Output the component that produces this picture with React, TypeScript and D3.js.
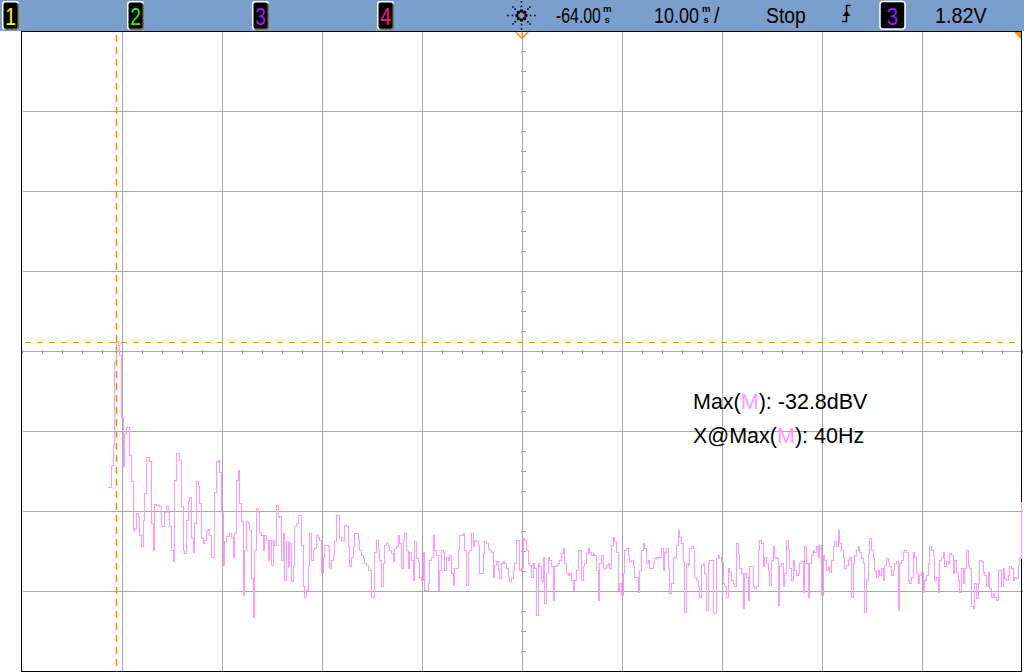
import React from "react";
import * as d3 from "d3";

const WIDTH = 1024;
const HEIGHT = 672;
const BAR_H = 31;

// graticule: 10 x 8 divisions, 1px lines on pixel centres
const GRID_LEFT = 22.5;
const GRID_RIGHT = 1022.5;
const GRID_TOP = 31.5;
const GRID_BOTTOM = 671.5;
const X_DIVS = 10;
const Y_DIVS = 8;

const FREQ_SPAN = [0, 420]; // Hz across the screen
const DBV_SPAN = [6, -74]; // 10 dB/div
const F_START = 36.0; // first FFT bin on screen
const BIN_HZ = 0.7;

// FFT magnitude, dBV, one value per bin
const magLow = [
  -51.0, -51.0, -48.2, -45.7, -35.4, -32.8, -33.2, -34.5, -42.2, -48.4,
  -44.3, -43.5, -43.5, -47.0, -50.3, -56.4, -56.1, -54.3, -54.6, -57.0,
  -58.4, -55.1, -51.8, -47.3, -47.3, -47.8, -55.5, -58.9, -53.1, -53.2,
  -53.2, -53.4, -55.9, -55.9, -54.1, -53.4, -54.1, -55.9, -58.9, -60.2,
  -50.1, -46.8, -46.8, -47.6, -53.4, -58.9, -59.3, -55.1, -52.8, -52.2,
  -57.4, -59.1, -55.5, -50.3, -50.9, -53.0, -57.4, -58.0, -57.6, -56.4,
  -56.3, -57.0, -59.7, -59.7, -51.6, -47.7, -47.6, -49.1, -54.1, -60.7,
  -57.8, -57.1, -57.1, -56.8, -57.2, -59.7, -56.8, -50.1, -48.9, -53.0,
  -55.3, -64.5, -58.9, -55.3, -55.5, -56.4, -62.4, -67.2, -58.9, -53.6,
  -54.1, -56.6, -57.0, -58.9, -57.0, -57.6, -60.1, -57.6, -60.7, -57.6,
  -58.2, -53.2, -54.7,
];

const magMid = [
  -54.6, -60.1, -56.8, -62.6, -57.8, -60.9, -58.0, -62.8, -60.9, -55.9,
  -55.5, -54.5, -54.5, -58.2, -63.4, -64.7, -63.9, -60.9, -56.8, -60.1,
  -58.9, -58.6, -57.0, -57.2, -57.6, -61.8, -59.7, -58.2, -58.2, -58.4,
  -61.1, -60.1, -59.5, -57.8, -54.5, -54.5, -57.2, -57.6, -57.6, -55.7,
  -55.9, -58.4, -60.9, -59.7, -58.4, -56.8, -56.8, -57.6, -58.9, -59.5,
  -59.9, -60.5, -60.7, -61.4, -61.4, -64.7, -64.7, -59.1, -57.6, -58.9,
  -60.1, -63.4, -60.5, -58.2, -58.0, -58.4, -58.9, -59.3, -60.3, -58.6,
  -58.4, -57.0, -58.0, -61.1, -57.6, -56.8, -58.9, -61.1, -59.1, -60.1,
  -62.6, -57.8, -59.9, -60.3, -62.2, -62.6, -59.1, -63.9, -63.9, -63.0,
  -60.1, -59.7, -57.0, -58.9, -59.5, -63.9, -61.4, -58.9, -59.1, -61.4,
  -59.7, -60.1, -59.5, -61.8, -63.2, -61.1, -61.1, -58.9, -57.0, -57.0,
  -56.8, -58.9, -63.2, -59.1, -58.9, -56.8, -58.4, -57.6, -57.8, -58.2,
  -61.8, -61.8, -59.3, -57.8, -58.0, -58.6, -58.9, -59.1, -62.2, -60.7,
  -60.3, -61.4, -62.4, -60.5, -60.3, -60.5, -61.1, -62.2, -62.8, -62.4,
  -61.4, -60.5, -57.6, -57.6, -61.4, -61.1, -57.4, -57.6, -58.9, -60.5,
  -60.7, -62.2, -60.5, -61.1, -67.0, -60.5, -60.9, -62.8, -59.7, -65.5,
  -61.8, -59.7, -60.1, -60.9, -65.1, -60.9, -60.7, -60.5, -60.1, -59.3,
  -58.6, -60.5, -61.8, -62.0, -61.8, -62.6, -63.9, -62.6, -61.4, -58.9,
  -58.9, -62.6, -60.9, -60.5, -59.3, -58.6, -59.1, -59.5, -59.3, -59.5,
  -61.4, -65.1, -60.5, -59.5, -61.1, -61.1, -60.7, -60.5, -61.1, -58.2,
  -57.2, -57.8, -59.1, -63.9, -63.0, -64.5, -61.8, -58.9, -58.6, -59.5,
  -60.3, -60.1, -60.7, -62.2, -62.2, -64.1, -61.4, -58.9, -58.0, -58.6,
  -60.5, -60.1, -61.1, -61.1, -60.5, -59.9, -59.7, -59.9,
];

const magHigh = [
  -59.7, -58.6, -61.4, -59.1, -58.6, -61.1, -64.3, -63.0, -59.9, -59.7,
  -58.2, -56.4, -57.2, -58.0, -60.3, -66.6, -60.5, -60.7, -58.6, -58.4,
  -58.6, -62.2, -62.6, -63.4, -64.7, -60.7, -60.5, -61.8, -66.4, -60.5,
  -60.1, -60.1, -66.8, -66.8, -59.9, -59.5, -59.7, -60.3, -63.0, -63.4,
  -64.7, -61.1, -61.6, -62.6, -63.0, -63.4, -58.0, -59.3, -61.1, -61.8,
  -66.1, -61.8, -62.2, -65.1, -60.9, -60.9, -63.4, -63.6, -63.4, -58.9,
  -57.6, -58.0, -60.9, -59.7, -60.5, -61.4, -63.2, -60.1, -58.4, -59.7,
  -59.9, -65.7, -60.9, -60.5, -63.4, -61.8, -57.6, -58.9, -61.1, -62.6,
  -60.1, -61.4, -62.0, -61.8, -60.5, -60.3, -64.1, -58.4, -60.5, -64.7,
  -60.5, -59.5, -58.9, -59.1, -58.4, -59.7, -58.2, -64.5, -59.5, -60.1,
  -61.4, -60.9, -61.6, -60.1, -58.4, -57.8, -58.4, -56.4, -58.0, -58.9,
  -59.7, -61.1, -60.7, -60.1, -59.7, -64.7, -60.5, -59.5, -58.9, -58.4,
  -59.1, -59.9, -60.5, -66.6, -62.6, -59.3, -57.4, -58.9, -59.7, -61.4,
  -62.2, -61.4, -62.0, -61.1, -62.6, -60.7, -59.9, -60.3, -60.9, -62.0,
  -61.4, -60.5, -60.3, -66.4, -60.5, -60.1, -59.1, -58.9, -59.1, -62.6,
  -63.0, -62.2, -59.1, -59.7, -61.8, -63.0, -62.0, -61.6, -64.1, -62.6,
  -62.0, -60.5, -58.4, -58.9, -59.5, -62.6, -62.2, -64.1, -60.1, -59.7,
  -59.1, -60.9, -60.3, -60.5, -59.3, -59.5, -61.8, -60.1, -61.6, -62.6,
  -64.1, -61.1, -63.0, -61.1, -58.9, -60.7, -61.1, -65.9, -66.1, -63.0,
  -64.9, -63.0, -60.1, -60.3, -61.6, -62.0, -63.4, -61.6, -63.6, -64.7,
  -64.3, -64.7, -65.1, -61.4, -61.4, -63.4, -61.1, -62.4, -62.6, -62.0,
  -60.9, -61.1, -62.6, -62.2, -62.4, -60.7, -59.9, -52.8,
];

const magDbv = [...magLow, ...magMid, ...magHigh];

const channelLabels = ["1", "2", "3", "4"];
const channelColors = ["#ffff00", "#22ee22", "#9b1ff0", "#ff1a8c"];

const delayText = "-64.00";
const timebaseText = "10.00";
const runState = "Stop";
const trigSource = "3";
const trigLevel = "1.82V";

const measName = "M";
const maxValueText = "): -32.8dBV";
const maxFreqText = "): 40Hz";

const BAR_BLUE = "#7b9fcc";
const GRID = "#a8a8a8";
const TRACE = "#ff99ff";
const CURSOR = "#ff8a00";
const FONT = "'Liberation Sans', Arial, sans-serif";

const xScale = d3.scaleLinear().domain(FREQ_SPAN).range([GRID_LEFT, GRID_RIGHT]);
const yScale = d3.scaleLinear().domain(DBV_SPAN).range([GRID_TOP, GRID_BOTTOM]);

// the scope's status font is narrow: squeeze Liberation Sans horizontally
function Narrow({ x, y, sx, size = 22, children, fill = "#000", anchor = "start" }:
  { x: number; y: number; sx: number; size?: number; children: React.ReactNode; fill?: string; anchor?: string }) {
  return (
    <text transform={`translate(${x},${y}) scale(${sx},1)`} fontFamily={FONT} fontSize={size}
      fill={fill} textAnchor={anchor}>
      {children}
    </text>
  );
}

function ChannelBox({ x, label, color }: { x: number; label: string; color: string }) {
  return (
    <g>
      <rect x={x} y={1} width={17} height={29} rx={3} fill="#ffffff" />
      <rect x={x + 2} y={3} width={15} height={27} rx={2} fill="#7d7548" />
      <rect x={x + 1.5} y={2.5} width={14} height={26} rx={2} fill="#000000" />
      <Narrow x={x + 8.5} y={24.5} sx={0.8} size={24} fill={color} anchor="middle">{label}</Narrow>
    </g>
  );
}

// small "m" over "s" unit, as the scope draws it
function StackedUnit({ x }: { x: number }) {
  return (
    <g fontFamily={FONT} fontWeight="bold" fill="#000" fontSize={9.5}>
      <text x={x} y={12}>m</text>
      <text x={x + 1.5} y={23}>s</text>
    </g>
  );
}

function Sparkle({ cx, cy }: { cx: number; cy: number }) {
  const dots: { x: number; y: number; s: number }[] = [];
  for (let k = 0; k < 8; k++) {
    const a = (k * Math.PI) / 4;
    const diag = k % 2 === 1;
    dots.push({ x: cx + Math.cos(a) * 4.5, y: cy + Math.sin(a) * 4.5, s: 3 });
    dots.push({ x: cx + Math.cos(a) * 9, y: cy + Math.sin(a) * 9, s: 1.6 });
    dots.push({ x: cx + Math.cos(a) * (diag ? 12 : 13.5), y: cy + Math.sin(a) * (diag ? 12 : 13.5), s: 1.5 });
  }
  return (
    <g fill="#000">
      {dots.map((d, i) => (
        <rect key={i} x={d.x - d.s / 2} y={d.y - d.s / 2} width={d.s} height={d.s} />
      ))}
    </g>
  );
}

export default function App() {
  const line = d3
    .line<number>()
    .x((_, i) => xScale(F_START + i * BIN_HZ))
    .y((d) => yScale(d))
    .curve(d3.curveStepAfter);

  const peakIdx = d3.maxIndex(magDbv);
  const peakX = Math.floor(xScale(F_START + peakIdx * BIN_HZ)) + 0.5;
  const peakY = Math.round(yScale(magDbv[peakIdx])) + 0.5;

  const xStep = (FREQ_SPAN[1] - FREQ_SPAN[0]) / X_DIVS;
  const yStep = (DBV_SPAN[0] - DBV_SPAN[1]) / Y_DIVS;
  const vLines = d3.range(1, X_DIVS).map((k) => xScale(FREQ_SPAN[0] + k * xStep));
  const hLines = d3.range(1, Y_DIVS).map((k) => yScale(DBV_SPAN[0] - k * yStep));
  const midX = xScale((FREQ_SPAN[0] + FREQ_SPAN[1]) / 2);
  const midY = yScale((DBV_SPAN[0] + DBV_SPAN[1]) / 2);
  const xMinor = d3.range(0, X_DIVS * 5 + 1).map((k) => xScale(FREQ_SPAN[0] + (k * xStep) / 5));
  const yMinor = d3.range(0, Y_DIVS * 4 + 1).map((k) => yScale(DBV_SPAN[0] - (k * yStep) / 4));

  return (
    <div>
      <style>{`body{margin:0;background:#fff}`}</style>
      <svg width={WIDTH} height={HEIGHT} style={{ display: "block" }}>
        <defs>
          <clipPath id="plot-clip">
            <rect x={22} y={32} width={1000.5} height={640} />
          </clipPath>
        </defs>
        <rect x={0} y={0} width={WIDTH} height={HEIGHT} fill="#ffffff" />

        {/* status bar */}
        <rect x={0} y={0} width={WIDTH} height={BAR_H} fill={BAR_BLUE} />
        {channelLabels.map((c, i) => (
          <ChannelBox key={c} x={2 + i * 125} label={c} color={channelColors[i]} />
        ))}
        <Sparkle cx={521.5} cy={15.5} />
        <Narrow x={556} y={23} sx={0.72}>{delayText}</Narrow>
        <StackedUnit x={603} />
        <Narrow x={654} y={23} sx={0.82}>{timebaseText}</Narrow>
        <StackedUnit x={702} />
        <Narrow x={714} y={23} sx={0.9}>/</Narrow>
        <Narrow x={766} y={23} sx={0.88}>{runState}</Narrow>
        <Narrow x={935} y={23} sx={0.9}>{trigLevel}</Narrow>
        {/* rising edge trigger symbol */}
        <path d="M842,21.5 H846.5 V5.5 H850.5" stroke="#000" strokeWidth={1.5} fill="none" />
        <path d="M842.5,16 L850.5,16 L846.5,11 Z" fill="#000" />
        <rect x={880} y={1.5} width={25} height={27.5} rx={3} fill="#000" stroke="#ffffff" strokeWidth={1.5} />
        <Narrow x={892.5} y={24.5} sx={0.85} size={24} fill={channelColors[2]} anchor="middle">{trigSource}</Narrow>

        {/* graticule */}
        <g stroke={GRID} strokeWidth={1} shapeRendering="crispEdges">
          {vLines.map((x, i) => (
            <line key={`v${i}`} x1={x} x2={x} y1={GRID_TOP} y2={GRID_BOTTOM} />
          ))}
          {hLines.map((y, i) => (
            <line key={`h${i}`} x1={GRID_LEFT} x2={GRID_RIGHT} y1={y} y2={y} />
          ))}
          {xMinor.map((x, i) => (
            <line key={`xm${i}`} x1={x} x2={x} y1={midY - 2} y2={midY + 2} />
          ))}
          {yMinor.map((y, i) => (
            <line key={`ym${i}`} x1={midX - 2} x2={midX + 3} y1={y} y2={y} />
          ))}
        </g>
        <rect x={21.5} y={31.5} width={1000} height={640} fill="none" stroke="#000" strokeWidth={1} shapeRendering="crispEdges" />

        {/* trigger position and corner markers */}
        <path d="M516,32 L522,38.5 L528,32" fill="none" stroke={CURSOR} strokeWidth={1.5} />
        <line x1={522} x2={522} y1={32} y2={36} stroke={CURSOR} strokeWidth={1} />
        <path d="M1014,32 L1021,32 L1021,39 Z" fill={CURSOR} />

        {/* FFT trace */}
        <g clipPath="url(#plot-clip)">
          <path d={line(magDbv) ?? ""} fill="none" stroke={TRACE} strokeWidth={1} shapeRendering="crispEdges" />
        </g>

        {/* cursors at the peak */}
        <line x1={peakX} x2={peakX} y1={35} y2={GRID_BOTTOM} stroke={CURSOR} strokeWidth={1.5} strokeDasharray="7 5" />
        <line x1={25} x2={1018} y1={peakY} y2={peakY} stroke={CURSOR} strokeWidth={1.2} strokeDasharray="6 6" />

        {/* measurement readout */}
        <g fontFamily={FONT} fontSize={21.5} fill="#000">
          <text x={693} y={409}>
            Max(<tspan fill={TRACE}>{measName}</tspan>
            {maxValueText}
          </text>
          <text x={693} y={443}>
            X@Max(<tspan fill={TRACE}>{measName}</tspan>
            {maxFreqText}
          </text>
        </g>
      </svg>
    </div>
  );
}
